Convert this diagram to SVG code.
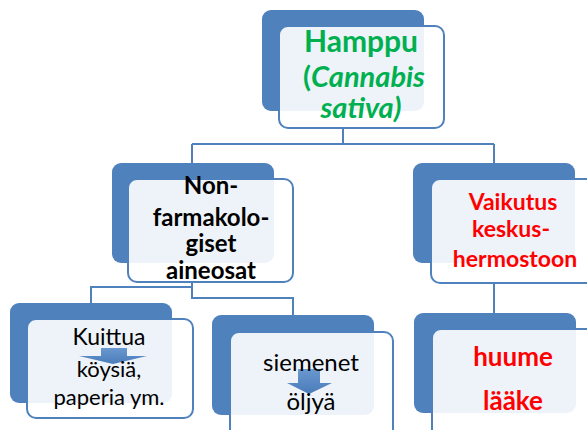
<svg xmlns="http://www.w3.org/2000/svg" width="587" height="430" viewBox="0 0 587 430">
<defs>
<style>
.back{fill:#4F81BD}
.front{fill:#FFFFFF;fill-opacity:0.9;stroke:#4F81BD;stroke-width:2}
.conn{fill:none;stroke:#4F81BD;stroke-width:2}
.arrow{fill:url(#ag)}
text{font-family:Lato,"Liberation Sans",sans-serif;text-anchor:middle}
.b{font-weight:bold}
.g{fill:#00B050}
.r{fill:#FF0000}
.k{fill:#000000}
</style>
<linearGradient id="ag" x1="0" y1="0" x2="0" y2="1">
<stop offset="0" stop-color="#6A98D0"/>
<stop offset="1" stop-color="#4A7CB9"/>
</linearGradient>
</defs>
<rect width="587" height="430" fill="#FFFFFF"/>
<g id="connectors">
<path class="conn" d="M343,128 V144 M192,144 H494 M192,144 V163 M494,144 V163"/>
<path class="conn" d="M192,282 V287 H91 V303 M192,287 V298 H293 V315"/>
<path class="conn" d="M494,283 V313"/>
</g>
<g id="hamppu">
<rect class="back" x="262" y="10" width="162" height="101" rx="9"/>
<rect class="front" x="279" y="26" width="165" height="102" rx="9"/>
<text class="b g" x="361" y="52" font-size="30">Hamppu</text>
<text class="b g" x="364" y="87" font-size="29">(<tspan font-style="italic">Cannabis</tspan></text>
<text class="b g" x="361" y="118" font-size="29" font-style="italic">sativa)</text>
</g>
<g id="nonfarmakologiset">
<rect class="back" x="112" y="163" width="162" height="100" rx="9"/>
<rect class="front" x="128" y="179" width="165" height="103" rx="9"/>
<text class="b k" x="211" y="194" font-size="24">Non-</text>
<text class="b k" x="211" y="226" font-size="24">farmakolo-</text>
<text class="b k" x="211" y="252" font-size="24">giset</text>
<text class="b k" x="211" y="279" font-size="24">aineosat</text>
</g>
<g id="vaikutus">
<rect class="back" x="413" y="163" width="162" height="100" rx="9"/>
<rect class="front" x="431" y="179" width="165" height="104" rx="9"/>
<text class="b r" x="513" y="210" font-size="23">Vaikutus</text>
<text class="b r" x="511" y="237" font-size="23">keskus-</text>
<text class="b r" x="515" y="267" font-size="23">hermostoon</text>
</g>
<g id="kuittua">
<rect class="back" x="10" y="303" width="162" height="100" rx="9"/>
<rect class="front" x="27" y="319" width="166" height="99" rx="9"/>
<path class="arrow" d="M101,348 H127 V356 H147 L113,364 L79,356 H101 Z"/>
<text class="k" x="109" y="345" font-size="23">Kuittua</text>
<text class="k" x="109" y="377" font-size="22">köysiä,</text>
<text class="k" x="109" y="405" font-size="22">paperia ym.</text>
</g>
<g id="siemenet">
<rect class="back" x="212" y="315" width="162" height="100" rx="9"/>
<rect class="front" x="230" y="332" width="163" height="110" rx="9"/>
<path class="arrow" d="M298,369 H320 V383 H332 L309,394 L287,383 H298 Z"/>
<text class="k" x="311" y="371" font-size="24">siemenet</text>
<text class="k" x="311" y="410" font-size="24">öljyä</text>
</g>
<g id="huume">
<rect class="back" x="414" y="313" width="162" height="100" rx="9"/>
<rect class="front" x="432" y="329" width="165" height="110" rx="9"/>
<text class="b r" x="513" y="366" font-size="26">huume</text>
<text class="b r" x="513" y="410" font-size="26">lääke</text>
</g>
</svg>
